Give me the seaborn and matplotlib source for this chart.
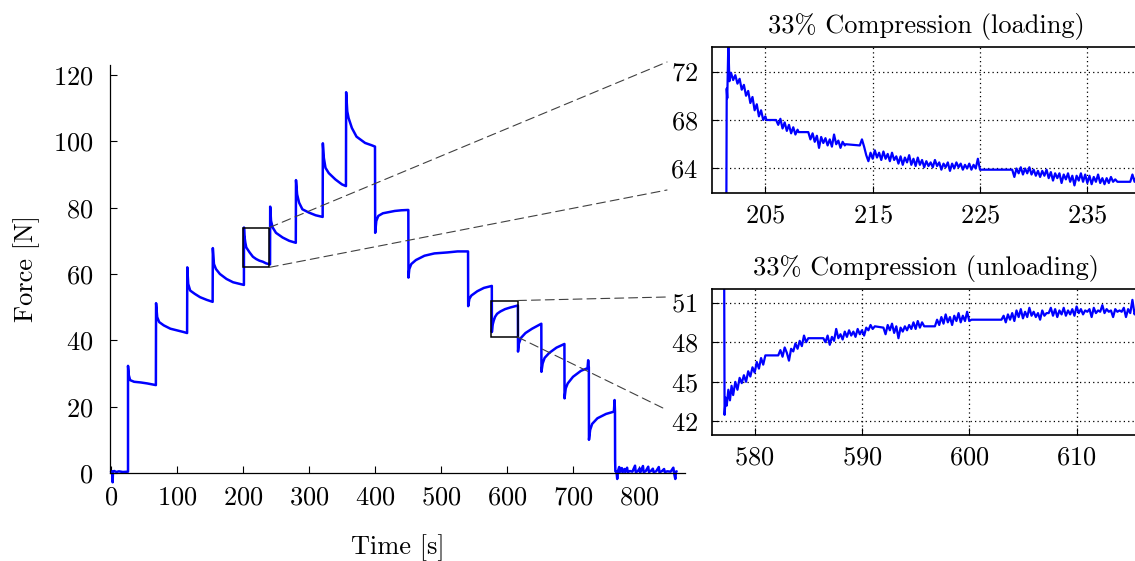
import numpy as np
import pandas as pd
import matplotlib
matplotlib.use("Agg")
import matplotlib.pyplot as plt
import seaborn as sns
from matplotlib.patches import Rectangle, ConnectionPatch

# ---------------- data ----------------
main_points = [
    (0.0, 0.4), (2.0, 0.4), (2.5, -2.8), (3.0, 0.4), (5.0, 0.6), (8.0, 0.3), (12.0, 0.5),
    (18.0, 0.3), (25.8, 0.4),
    (25.8, 32.3), (27.0, 29.5), (29.0, 28.0), (35.0, 27.5), (45.0, 27.3), (55.0, 27.0), (68.0, 26.5),
    (68.3, 51.2), (70.0, 47.0), (73.0, 45.5), (80.0, 44.5), (90.0, 43.5), (100.0, 43.0),
    (110.0, 42.5), (115.3, 42.2),
    (115.6, 62.0), (117.0, 57.0), (120.0, 55.0), (127.0, 54.0), (135.0, 53.0), (145.0, 52.2),
    (154.0, 51.6),
    (154.3, 67.8), (156.0, 63.0), (159.0, 61.5), (165.0, 60.0), (175.0, 58.5), (185.0, 57.5),
    (195.0, 57.0), (201.4, 56.7),
    (201.5, 74.0), (202.0, 71.7), (203.5, 69.5), (205.0, 68.0), (210.0, 66.5), (215.0, 65.2),
    (220.0, 64.5), (225.0, 64.0), (230.0, 63.7), (235.0, 63.2), (241.0, 62.9),
    (241.2, 80.3), (242.5, 76.0), (245.0, 74.0), (250.0, 72.4), (260.0, 71.0), (270.0, 70.0),
    (280.0, 69.4),
    (280.3, 88.3), (282.0, 84.0), (285.0, 81.5), (290.0, 79.5), (300.0, 78.5), (310.0, 77.7),
    (320.7, 77.2),
    (321.0, 99.4), (322.5, 95.0), (325.0, 92.0), (330.0, 90.4), (340.0, 88.5), (350.0, 87.0),
    (356.0, 86.5),
    (356.3, 114.8), (358.0, 109.0), (360.0, 107.0), (365.0, 104.0), (372.0, 101.4),
    (385.0, 99.5), (395.0, 98.8), (400.0, 98.4),
    (400.3, 72.4), (402.0, 76.0), (405.0, 77.5), (412.0, 78.3), (420.0, 78.6), (430.0, 79.0),
    (440.0, 79.2), (450.5, 79.3),
    (450.7, 58.9), (452.0, 61.5), (455.0, 63.0), (462.0, 64.2), (475.0, 65.5), (490.0, 66.2),
    (510.0, 66.5), (525.0, 66.8), (541.0, 66.8),
    (541.2, 50.3), (543.0, 52.5), (546.0, 53.5), (555.0, 54.8), (565.0, 55.8), (577.0, 56.4),
    (577.1, 42.5), (578.0, 44.5), (580.0, 46.0), (582.0, 47.1), (585.0, 48.0), (590.0, 48.7),
    (597.0, 49.4), (605.0, 49.9), (616.5, 50.5),
    (616.7, 36.6), (618.0, 39.0), (621.0, 40.7), (628.0, 42.2), (638.0, 43.5), (652.0, 45.0),
    (652.2, 30.5), (654.0, 33.0), (657.0, 34.7), (664.0, 36.2), (675.0, 37.8), (687.0, 38.9),
    (687.2, 22.5), (689.0, 25.5), (692.0, 27.0), (700.0, 29.0), (712.0, 30.8), (722.0, 31.6),
    (723.0, 34.0), (724.0, 31.8),
    (724.2, 10.0), (726.0, 13.0), (729.0, 14.8), (737.0, 16.5), (750.0, 17.8), (762.0, 18.5),
    (763.0, 22.0), (763.6, 18.6),
    (763.8, 4.0), (764.2, 0.5), (766.0, 0.3), (767.0, -1.8), (768.0, 0.5), (770.0, 1.8),
    (771.0, 0.3), (774.0, 1.5), (775.0, 0.2), (778.0, 1.2), (779.0, 0.3), (782.0, 1.6),
    (783.0, 0.2), (786.0, 0.6), (790.0, 0.4), (794.0, 2.2), (795.0, 0.3), (798.0, 0.5),
    (801.0, 1.4), (802.0, 0.2), (806.0, 2.1), (807.0, 0.3), (810.0, 0.5), (814.0, 1.9),
    (815.0, 0.3), (818.0, 0.6), (821.0, 1.3), (822.0, 0.3), (826.0, 0.5), (830.0, 1.8),
    (831.0, 0.2), (835.0, 0.6), (838.0, 1.2), (839.0, 0.3), (843.0, 0.5), (848.0, 0.4),
    (852.0, 1.6), (853.0, 0.2), (855.0, -1.8), (856.0, 0.4), (857.0, 0.5),
]

load_points = [
    (201.35, 56.7), (201.40, 70.6), (201.45, 69.8), (201.55, 74.3), (201.65, 71.2),
    (201.8, 71.9), (202.0, 71.3), (202.2, 71.7), (202.4, 71.0), (202.6, 71.4), (202.8, 70.5),
    (203.0, 70.9), (203.2, 70.0), (203.4, 70.4), (203.6, 69.4), (203.8, 69.9), (204.0, 68.8),
    (204.2, 69.3), (204.4, 68.3), (204.6, 68.8), (204.8, 68.0), (205.0, 68.3), (205.1, 68.0),
    (206.0, 68.0), (206.2, 67.6), (206.4, 68.1), (206.6, 67.3), (206.8, 67.8), (207.0, 67.1),
    (207.2, 67.6), (207.4, 66.9), (207.6, 67.4), (207.8, 66.8), (208.0, 67.2), (208.1, 67.0),
    (209.0, 67.0), (209.2, 66.4), (209.4, 66.9), (209.6, 66.2), (209.8, 66.7), (210.0, 65.7),
    (210.2, 66.6), (210.4, 66.1), (210.6, 66.5), (210.8, 65.9), (211.0, 66.4), (211.2, 65.8),
    (211.4, 66.8), (211.6, 66.0), (211.8, 66.3), (212.0, 65.7), (212.2, 66.2), (212.4, 65.9),
    (212.5, 66.0), (213.8, 65.9), (214.0, 66.4), (214.2, 65.8), (214.4, 65.1), (214.6, 64.6),
    (214.8, 65.3), (215.0, 64.8), (215.2, 65.5), (215.4, 64.9), (215.6, 65.3), (215.8, 64.7),
    (216.0, 65.4), (216.2, 64.8), (216.4, 65.2), (216.6, 64.6), (216.8, 65.3), (217.0, 64.7),
    (217.2, 65.0), (217.4, 64.4), (217.6, 65.0), (217.8, 64.3), (218.0, 64.9), (218.2, 64.5),
    (218.4, 65.1), (218.6, 64.3), (218.8, 64.8), (219.0, 64.2), (219.2, 64.9), (219.4, 64.3),
    (219.6, 64.7), (219.8, 64.1), (220.0, 64.6), (220.2, 64.2), (220.4, 64.5), (220.6, 64.1),
    (220.8, 64.7), (221.0, 64.2), (221.2, 64.5), (221.4, 63.9), (221.6, 64.4), (221.8, 64.1),
    (222.0, 64.5), (222.2, 63.8), (222.4, 64.4), (222.6, 64.0), (222.8, 64.5), (223.0, 64.1),
    (223.2, 64.4), (223.4, 63.9), (223.6, 64.3), (223.8, 64.0), (224.0, 64.4), (224.2, 63.9),
    (224.4, 64.3), (224.6, 64.0), (224.8, 64.8), (225.0, 63.9), (228.0, 63.9), (228.2, 63.3),
    (228.4, 64.0), (228.6, 63.6), (228.8, 64.1), (229.0, 63.5), (229.2, 64.0), (229.4, 63.6),
    (229.6, 64.1), (229.8, 63.5), (230.0, 63.9), (230.2, 63.4), (230.4, 63.8), (230.6, 63.3),
    (230.8, 63.8), (231.0, 63.4), (231.2, 63.9), (231.4, 63.2), (231.6, 63.7), (231.8, 63.0),
    (232.0, 63.6), (232.2, 63.2), (232.4, 63.6), (232.6, 62.8), (232.8, 63.5), (233.0, 63.1),
    (233.2, 63.6), (233.4, 62.9), (233.6, 63.4), (233.8, 62.6), (234.0, 63.4), (234.2, 63.0),
    (234.4, 63.6), (234.6, 62.9), (234.8, 63.5), (235.0, 62.8), (235.2, 63.4), (235.4, 62.7),
    (235.6, 63.3), (235.8, 62.9), (236.0, 63.5), (236.2, 62.8), (236.4, 63.2), (236.6, 62.7),
    (236.8, 63.2), (237.0, 62.8), (237.2, 63.3), (237.4, 62.9), (237.6, 63.1), (237.8, 62.9),
    (239.0, 62.9), (239.2, 63.5), (239.4, 62.9), (239.6, 63.4), (239.8, 62.8), (240.0, 63.2),
    (240.3, 62.9),
]

unload_points = [
    (577.15, 56.4), (577.2, 42.5), (577.3, 43.8), (577.4, 43.2), (577.55, 44.4), (577.7, 43.6),
    (577.85, 44.7), (578.0, 44.0), (578.2, 45.0), (578.4, 44.4), (578.6, 45.3), (578.8, 44.9),
    (579.0, 45.5), (579.2, 45.0), (579.4, 45.8), (579.6, 45.4), (579.8, 46.1), (580.0, 45.7),
    (580.2, 46.5), (580.4, 46.0), (580.6, 46.8), (580.8, 46.3), (581.0, 47.0), (581.2, 47.0),
    (582.2, 47.0), (582.4, 47.4), (582.6, 46.9), (582.8, 47.6), (583.0, 47.2), (583.2, 46.6),
    (583.4, 47.5), (583.6, 47.3), (583.8, 47.9), (584.0, 47.5), (584.2, 48.1), (584.4, 47.7),
    (584.6, 48.5), (584.8, 48.0), (585.0, 48.3), (586.4, 48.3), (586.6, 48.0), (586.8, 48.5),
    (587.0, 47.8), (587.2, 48.4), (587.4, 48.1), (587.6, 49.0), (587.8, 48.3), (588.0, 48.6),
    (588.2, 48.2), (588.4, 48.8), (588.6, 48.4), (588.8, 48.9), (589.0, 48.5), (589.2, 48.8),
    (589.4, 48.4), (589.6, 49.0), (589.8, 48.6), (590.0, 48.9), (590.2, 48.5), (590.4, 49.1),
    (590.6, 48.9), (590.8, 49.3), (591.0, 49.0), (591.2, 49.2), (592.0, 49.1), (592.2, 48.6),
    (592.4, 49.3), (592.6, 48.9), (592.8, 49.4), (593.0, 48.7), (593.2, 49.2), (593.4, 48.3),
    (593.6, 49.1), (593.8, 48.8), (594.0, 49.2), (594.2, 48.9), (594.4, 49.3), (594.6, 49.0),
    (594.8, 49.5), (595.0, 49.0), (595.2, 49.6), (595.4, 49.1), (595.6, 49.5), (595.8, 49.2),
    (596.0, 49.2), (596.8, 49.2), (597.0, 49.7), (597.2, 49.3), (597.4, 49.9), (597.6, 49.4),
    (597.8, 50.1), (598.0, 49.5), (598.2, 49.9), (598.4, 49.3), (598.6, 50.0), (598.8, 49.6),
    (599.0, 50.2), (599.2, 49.5), (599.4, 50.0), (599.6, 49.6), (599.8, 50.3), (600.0, 49.6),
    (600.2, 49.7), (603.0, 49.7), (603.2, 50.0), (603.4, 49.5), (603.6, 50.1), (603.8, 49.7),
    (604.0, 50.2), (604.2, 49.6), (604.4, 50.4), (604.6, 49.9), (604.8, 50.5), (605.0, 49.8),
    (605.2, 50.3), (605.4, 49.9), (605.6, 50.6), (605.8, 50.0), (606.0, 50.3), (606.2, 49.9),
    (606.4, 50.2), (606.6, 49.7), (606.8, 50.4), (607.0, 50.0), (607.2, 50.2), (607.4, 50.2),
    (607.6, 50.6), (607.8, 50.0), (608.0, 50.5), (608.2, 49.9), (608.4, 50.4), (608.6, 50.1),
    (608.8, 50.6), (609.0, 50.0), (609.2, 50.4), (609.4, 50.1), (609.6, 50.5), (609.8, 50.0),
    (610.0, 50.7), (610.2, 50.2), (610.4, 50.5), (610.6, 50.1), (610.8, 50.4), (611.0, 50.3),
    (611.2, 50.5), (611.4, 49.9), (611.6, 50.6), (611.8, 50.2), (612.0, 50.4), (612.2, 50.3),
    (612.4, 50.8), (612.6, 50.2), (612.8, 50.5), (613.0, 50.3), (613.2, 50.4), (613.4, 49.9),
    (613.6, 50.5), (613.8, 50.3), (614.0, 50.4), (614.2, 50.3), (614.4, 50.6), (614.6, 49.9),
    (614.8, 50.5), (615.0, 50.2), (615.2, 51.2), (615.4, 50.1), (615.6, 50.6), (615.8, 50.2),
    (616.0, 50.5), (616.3, 50.3),
]

main_xticks = [0, 100, 200, 300, 400, 500, 600, 700, 800]
main_yticks = [0, 20, 40, 60, 80, 100, 120]
load_xticks = [205, 215, 225, 235]
load_yticks = [64, 68, 72]
unload_xticks = [580, 590, 600, 610]
unload_yticks = [42, 45, 48, 51]
load_window = (200, 240, 62, 74)      # t0, t1, f0, f1
unload_window = (576, 616, 41, 52)
load_title = "33% Compression (loading)"
unload_title = "33% Compression (unloading)"
x_label = "Time [s]"
y_label = "Force [N]"

# ---------------- style ----------------
sns.set_style("ticks")
plt.rcParams['font.family'] = ['cmr10', 'DejaVu Serif']
plt.rcParams['mathtext.fontset'] = 'cm'
plt.rcParams['axes.formatter.use_mathtext'] = True
plt.rcParams['axes.unicode_minus'] = False
plt.rcParams['text.color'] = 'black'
plt.rcParams['axes.labelcolor'] = 'black'

W, H = 1135, 561
fig = plt.figure(figsize=(W / 100, H / 100), dpi=100)

def px_rect(x0, y_top, x1, y_bot):
    return [x0 / W, 1 - y_bot / H, (x1 - x0) / W, (y_bot - y_top) / H]

BLUE = (0.0, 0.0, 1.0)
FS = 19

# ---------------- main axes ----------------
ax = fig.add_axes(px_rect(110, 65, 685, 473))
df_main = pd.DataFrame(main_points, columns=["t", "f"])
sns.lineplot(data=df_main, x="t", y="f", ax=ax, estimator=None, sort=False,
             color=BLUE, lw=1.8)
for ln in ax.lines:
    ln.set_clip_on(False)
ax.set_xlim(-1.5, 869.7)
ax.set_ylim(0, 123)
ax.set_xticks(main_xticks)
ax.set_yticks(main_yticks)
ax.spines["top"].set_visible(False)
ax.spines["right"].set_visible(False)
for s in ("left", "bottom"):
    ax.spines[s].set_linewidth(0.9)
    ax.spines[s].set_color("black")
ax.tick_params(direction="in", length=5, width=0.8, labelsize=FS, colors="black")
ax.tick_params(axis="y", pad=12)
ax.tick_params(axis="x", pad=9)
ax.set_xlabel(x_label, fontsize=FS, labelpad=18, color="black")
ax.set_ylabel(y_label, fontsize=FS, labelpad=9, color="black")

for (t0, t1, f0, f1) in (load_window, unload_window):
    ax.add_patch(Rectangle((t0, f0), t1 - t0, f1 - f0, fill=False, ec="black", lw=1.1, zorder=5))

def link(xy, fig_px):
    cp = ConnectionPatch(xyA=xy, coordsA=ax.transData,
                         xyB=(fig_px[0] / W, 1 - fig_px[1] / H), coordsB=fig.transFigure,
                         ls=(0, (8, 4.5)), color="0.25", lw=0.8)
    fig.add_artist(cp)

link((load_window[1], load_window[3]), (667, 62))
link((load_window[1], load_window[2]), (667, 190))
link((unload_window[1], unload_window[3]), (667, 297))
link((unload_window[1], unload_window[2]), (667, 410))

# ---------------- insets ----------------
def inset(rect, pts, win, xt, yt, title, tpad):
    a = fig.add_axes(rect)
    d = pd.DataFrame(pts, columns=["t", "f"])
    sns.lineplot(data=d, x="t", y="f", ax=a, estimator=None, sort=False, color=BLUE, lw=1.6)
    a.set_xlim(win[0], win[1])
    a.set_ylim(win[2], win[3])
    a.set_xticks(xt)
    a.set_yticks(yt)
    a.grid(True, ls=(0, (1, 2.5)), color="black", lw=0.9)
    for s in a.spines.values():
        s.set_linewidth(1.2)
        s.set_color("black")
    a.tick_params(direction="in", length=5, width=0.8, labelsize=FS, colors="black")
    a.tick_params(axis="y", pad=10)
    a.tick_params(axis="x", pad=8)
    a.set_xlabel("")
    a.set_ylabel("")
    a.set_title(title, fontsize=FS, pad=tpad, color="black")
    return a

inset(px_rect(711.7, 47.3, 1141, 192.7), load_points, load_window, load_xticks, load_yticks, load_title, 10.5)
inset(px_rect(711.7, 289.3, 1141, 434.7), unload_points, unload_window, unload_xticks, unload_yticks, unload_title, 10)

fig.savefig("out.png", dpi=100)
